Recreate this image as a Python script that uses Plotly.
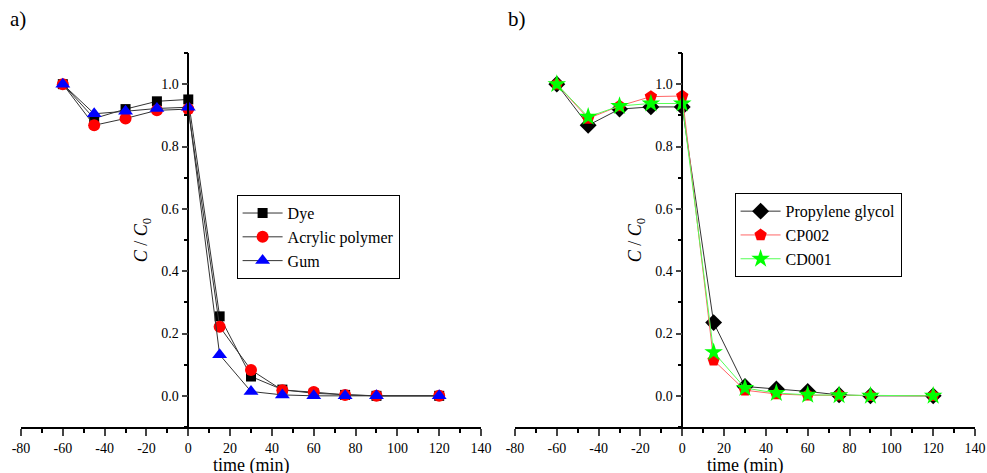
import plotly.graph_objects as go

# ---- data ----
time_min = [-60, -45, -30, -15, 0, 15, 30, 45, 60, 75, 90, 120]

dye = [1.0, 0.89, 0.92, 0.945, 0.951, 0.255, 0.062, 0.020, 0.008, 0.003, 0.0, 0.0]
acrylic = [1.0, 0.868, 0.89, 0.916, 0.92, 0.222, 0.083, 0.018, 0.012, 0.003, 0.0, 0.0]
gum = [1.0, 0.905, 0.913, 0.922, 0.926, 0.132, 0.014, 0.003, 0.0, 0.0, 0.0, 0.0]

prop_glycol = [1.0, 0.868, 0.92, 0.927, 0.927, 0.235, 0.030, 0.022, 0.014, 0.003, 0.0, 0.0]
cp002 = [1.0, 0.89, 0.93, 0.96, 0.962, 0.114, 0.018, 0.006, 0.002, 0.002, 0.0, 0.0]
cd001 = [1.0, 0.895, 0.93, 0.938, 0.938, 0.14, 0.025, 0.009, 0.003, 0.002, 0.0, 0.0]

x_ticks = list(range(-80, 141, 20))
x_tick_labels = [str(v) for v in x_ticks]  # plain hyphen minus, as in the reference
y_ticks = [0.0, 0.2, 0.4, 0.6, 0.8, 1.0]
y_tick_labels = ["0.0", "0.2", "0.4", "0.6", "0.8", "1.0"]

FONT = "'Liberation Serif', 'DejaVu Serif', serif"

fig = go.Figure()

def add(x, y, name, xa, ya, legend, lcolor, mcolor, symbol, size):
    fig.add_trace(go.Scatter(
        x=x, y=y, name=name, xaxis=xa, yaxis=ya, legend=legend,
        mode="lines+markers",
        line=dict(color=lcolor, width=1),
        marker=dict(color=mcolor, symbol=symbol, size=size, line=dict(width=0)),
    ))

add(time_min, dye, "Dye", "x", "y", "legend", "#333333", "black", "square", 10)
add(time_min, acrylic, "Acrylic polymer", "x", "y", "legend", "#333333", "red", "circle", 12)
add(time_min, gum, "Gum", "x", "y", "legend", "#333333", "blue", "triangle-up", 13)

add(time_min, prop_glycol, "Propylene glycol", "x2", "y2", "legend2", "#333333", "black", "diamond", 13)
add(time_min, cp002, "CP002", "x2", "y2", "legend2", "#ff6666", "red", "pentagon", 13)
add(time_min, cd001, "CD001", "x2", "y2", "legend2", "#55ff55", "#00ff00", "star", 14)

dom_a = [0.0, 0.4822]
dom_b = [0.5178, 1.0]
frac0 = 80 / 220

xcommon = dict(
    range=[-80, 140], tickvals=x_ticks, ticktext=x_tick_labels, ticks="outside", ticklen=7, tickwidth=1.5,
    showline=True, linecolor="black", linewidth=1.5, showgrid=False, zeroline=False,
    tickfont=dict(family=FONT, size=14, color="black"),
    minor=dict(dtick=10, tick0=0, ticks="outside", ticklen=4, tickwidth=1.5, tickcolor="black"),
    fixedrange=True, automargin=False,
)
ycommon = dict(
    range=[-0.1, 1.1], tickvals=y_ticks, ticktext=y_tick_labels, ticks="outside", ticklen=6, tickwidth=1.5,
    showline=True, linecolor="black", linewidth=1.5, showgrid=False, zeroline=False,
    tickfont=dict(family=FONT, size=14, color="black"),
    minor=dict(dtick=0.1, tick0=0, ticks="outside", ticklen=4, tickwidth=1.5, tickcolor="black"),
    title=dict(text="<i>C</i> / <i>C</i><sub>0</sub>", font=dict(family=FONT, size=18, color="black"), standoff=8),
    anchor="free", automargin=False, fixedrange=True,
)

fig.update_layout(
    width=987, height=473,
    margin=dict(l=21, r=12, t=53, b=46),
    paper_bgcolor="white", plot_bgcolor="white",
    showlegend=True,
    xaxis=dict(domain=dom_a, anchor="y", **xcommon),
    xaxis2=dict(domain=dom_b, anchor="y2", **xcommon),
    yaxis=dict(position=dom_a[0] + frac0 * (dom_a[1] - dom_a[0]), **ycommon),
    yaxis2=dict(position=dom_b[0] + frac0 * (dom_b[1] - dom_b[0]), **ycommon),
    legend=dict(x=0.226, y=0.62, xanchor="left", yanchor="top", bordercolor="black", borderwidth=1,
                bgcolor="white", font=dict(family=FONT, size=16, color="black"), tracegroupgap=0,
                itemwidth=40),
    legend2=dict(x=0.748, y=0.625, xanchor="left", yanchor="top", bordercolor="black", borderwidth=1,
                 bgcolor="white", font=dict(family=FONT, size=16, color="black"), tracegroupgap=0,
                 itemwidth=40),
)
# x-axis titles
for dom in (dom_a, dom_b):
    fig.add_annotation(text="time (min)", xref="paper", yref="paper", x=(dom[0] + dom[1]) / 2, y=-0.103,
                       xanchor="center", yanchor="middle", showarrow=False,
                       font=dict(family=FONT, size=18, color="black"))
fig.add_annotation(text="a)", xref="paper", yref="paper", x=-0.014, y=1.09, xanchor="left", yanchor="middle",
                   showarrow=False, font=dict(family=FONT, size=21, color="black"))
fig.add_annotation(text="b)", xref="paper", yref="paper", x=0.508, y=1.09, xanchor="left", yanchor="middle",
                   showarrow=False, font=dict(family=FONT, size=21, color="black"))

fig.write_html("out.html", config={"displayModeBar": False},
               post_script="document.body.style.margin='0';document.body.style.overflow='hidden';")
